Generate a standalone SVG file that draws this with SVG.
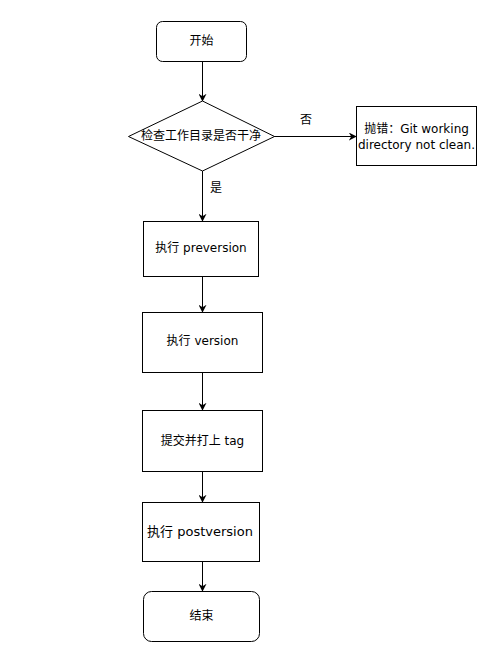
<svg xmlns="http://www.w3.org/2000/svg" width="498" height="661" viewBox="0 0 498 661">
<style>
.n{fill:#fff;stroke:#000;stroke-width:1}
.t{font-family:"DejaVu Sans","Noto Sans CJK SC",sans-serif;font-size:12px;fill:#000;text-anchor:middle;dominant-baseline:central}
.c{stroke:#000;stroke-width:1;fill:none;marker-end:url(#a)}
</style>
<defs>
<marker id="a" viewBox="0 0 10 10" refX="9" refY="5" markerWidth="8" markerHeight="8" markerUnits="userSpaceOnUse" orient="auto">
<path d="M0,0 L10,5 L0,10 L3,5 Z" fill="#000"/>
</marker>
</defs>
<rect width="498" height="661" fill="#fff"/>
<g id="connectors">
<path class="c" d="M202.5,61 V101"/>
<path class="c" d="M274,136.5 H356"/>
<path class="c" d="M202.5,171 V221"/>
<path class="c" d="M202.5,276 V312"/>
<path class="c" d="M202.5,372 V410"/>
<path class="c" d="M202.5,472 V502"/>
<path class="c" d="M202.5,562 V591"/>
<text class="t" x="306" y="120">否</text>
<text class="t" x="216" y="188">是</text>
</g>
<g id="start"><rect class="n" x="156.5" y="21.5" width="90" height="40" rx="6"/><text class="t" x="201.5" y="41">开始</text></g>
<g id="check"><path class="n" d="M202.5,101 L274.5,136.5 L202.5,171 L128.5,136.5 Z"/><text class="t" x="201" y="136">检查工作目录是否干净</text></g>
<g id="error"><rect class="n" x="356.5" y="106.5" width="120" height="59"/><text class="t" x="416.5" y="129">抛错：Git working</text><text class="t" x="416.5" y="145">directory not clean.</text></g>
<g id="preversion"><rect class="n" x="143.5" y="221.5" width="115" height="55"/><text class="t" x="201" y="248">执行 preversion</text></g>
<g id="version"><rect class="n" x="142.5" y="312.5" width="120" height="60"/><text class="t" x="202.5" y="341">执行 version</text></g>
<g id="tag"><rect class="n" x="142.5" y="410.5" width="120" height="61"/><text class="t" x="202.5" y="441">提交并打上 tag</text></g>
<g id="postversion"><rect class="n" x="142.5" y="502.5" width="117" height="59"/><text class="t" x="200" y="531" style="font-size:13px">执行 postversion</text></g>
<g id="end"><rect class="n" x="143.5" y="591.5" width="116" height="50" rx="8"/><text class="t" x="201.5" y="616">结束</text></g>
</svg>
